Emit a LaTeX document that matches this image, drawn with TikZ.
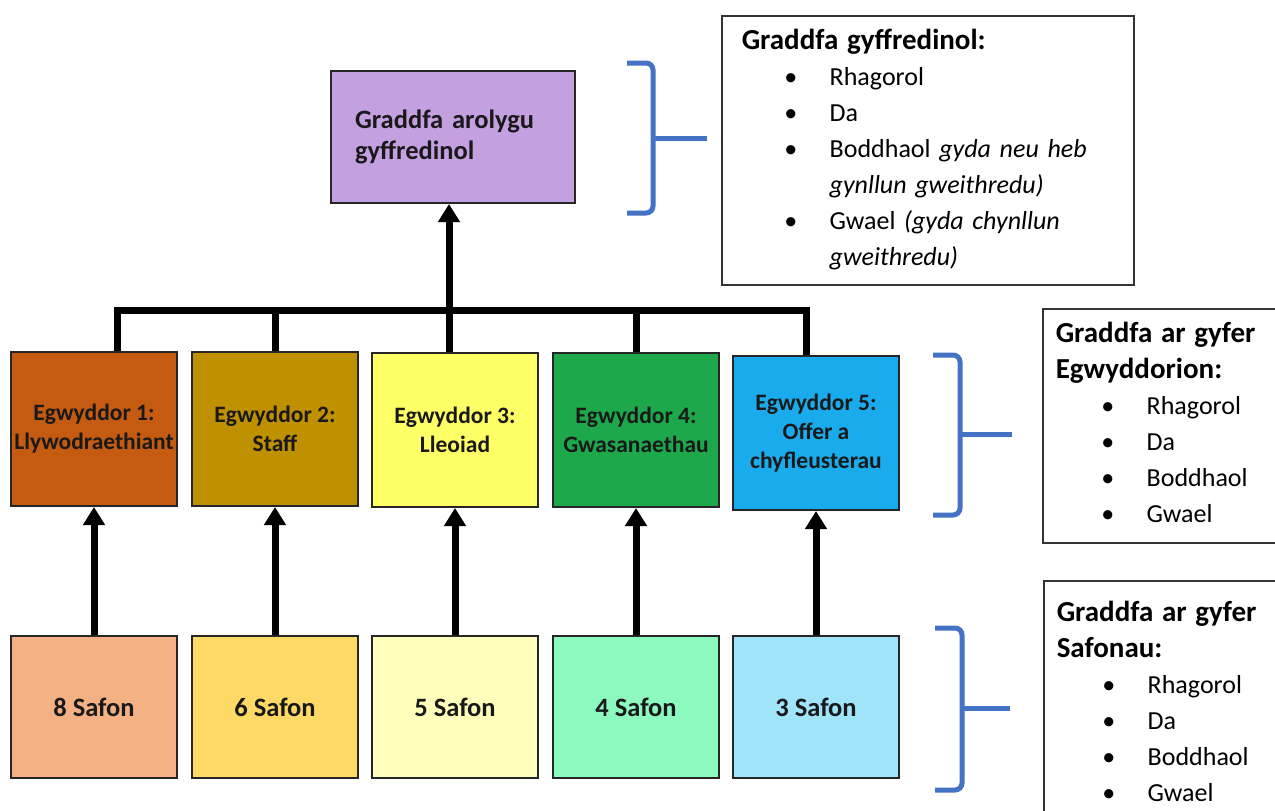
\documentclass[tikz,border=0pt]{standalone}
\usepackage{fontspec}
\setmainfont{Carlito}
\usetikzlibrary{arrows.meta}

\definecolor{overall}{HTML}{C5A0E0}
\definecolor{egA}{HTML}{C55A11}
\definecolor{egB}{HTML}{BF9000}
\definecolor{egC}{HTML}{FFFF66}
\definecolor{egD}{HTML}{1DA84C}
\definecolor{egE}{HTML}{1AABEC}
\definecolor{sfA}{HTML}{F4B183}
\definecolor{sfB}{HTML}{FFD966}
\definecolor{sfC}{HTML}{FFFFBB}
\definecolor{sfD}{HTML}{8CFABF}
\definecolor{sfE}{HTML}{A0E4FA}
\definecolor{bracketblue}{HTML}{4472C4}

\begin{document}
\begin{tikzpicture}[x=1pt,y=-1pt,
  box/.style={draw=black!85, line width=2pt, minimum width=166pt, inner sep=2pt, align=center, text=black!90},
  egbox/.style={box, minimum height=154pt, font=\fontsize{23.5}{29}\selectfont\bfseries},
  safbox/.style={box, minimum height=142pt, font=\fontsize{26.5}{32}\selectfont\bfseries},
  panel/.style={draw=black!80, line width=1.5pt, anchor=north west, inner ysep=0pt, align=left, font=\fontsize{26}{36}\selectfont},
  busline/.style={line width=7pt},
  uparrow/.style={line width=7pt, -{Triangle[width=21pt,length=18pt]}},
  bracket/.style={draw=bracketblue, line width=5pt, rounded corners=7pt}]

\useasboundingbox (0,0) rectangle (1275,811);
\clip (0,0) rectangle (1275,811);

% Overall inspection grade
\node[box, fill=overall, minimum width=244pt, minimum height=132pt, text width=196pt, inner xsep=24pt, align=left,
  font=\fontsize{26.5}{31}\selectfont\bfseries] (top) at (453,137) {Graddfa arolygu\\gyffredinol};

% Principles
\node[egbox, fill=egA] (p1) at (94,429) {Egwyddor 1:\\Llywodraethiant};
\node[egbox, fill=egB] (p2) at (275,429) {Egwyddor 2:\\Staff};
\node[egbox, fill=egC] (p3) at (455,430) {Egwyddor 3:\\Lleoiad};
\node[egbox, fill=egD] (p4) at (636,430) {Egwyddor 4:\\Gwasanaethau};
\node[egbox, fill=egE] (p5) at (816,433) {Egwyddor 5:\\Offer a\\chyfleusterau};

% Standards
\foreach \i/\x/\n/\c in {1/94/8/sfA, 2/275/6/sfB, 3/455/5/sfC, 4/636/4/sfD, 5/816/3/sfE}
{
    \node[safbox, fill=\c] (s\i) at (\x,707) {\n\ Safon};
}

% Arrows from standards up to principles
\foreach \i in {1,...,5}
{
    \draw[uparrow] (s\i.north) -- (p\i.south);
}

% Bus joining the principles to the overall grade
\coordinate (busL) at (117,310);
\coordinate (busR) at (806,310);
\coordinate (up) at (449,310);
\draw[busline] (busL |- p1.north) -- (busL) -- (busR) -- (busR |- p5.north);
\draw[busline] (p2.north) -- (p2.north |- busL);
\draw[busline] (p4.north) -- (p4.north |- busL);
\draw[uparrow] (up |- p3.north) -- (up |- top.south);

% Grade panels
\node[panel, minimum width=412pt, minimum height=269pt, text width=372pt, inner xsep=20pt] (gradeAll) at (721,15) {%
  \begin{tabular}{@{\hspace{42.5pt}}c@{\hspace{32.5pt}}l@{}}
  \multicolumn{2}{@{}l}{\fontsize{29}{36}\selectfont\bfseries Graddfa gyffredinol:}\\
  \textbullet & Rhagorol\\
  \textbullet & Da\\
  \textbullet & Boddhaol \textit{gyda neu heb}\\
   & \textit{gynllun gweithredu)}\\
  \textbullet & Gwael \textit{(gyda chynllun}\\
   & \textit{gweithredu)}
  \end{tabular}};
\node[panel, minimum width=260pt, minimum height=234pt, text width=247pt, inner xsep=13pt] (gradeEg) at (1042,308) {%
  \begin{tabular}{@{\hspace{45.5pt}}c@{\hspace{32.5pt}}l@{}}
  \multicolumn{2}{@{}l}{\fontsize{29}{36}\selectfont\bfseries Graddfa ar gyfer}\\
  \multicolumn{2}{@{}l}{\fontsize{29}{36}\selectfont\bfseries Egwyddorion:}\\
  \textbullet & Rhagorol\\
  \textbullet & Da\\
  \textbullet & Boddhaol\\
  \textbullet & Gwael
  \end{tabular}};
\node[panel, minimum width=260pt, minimum height=248pt, text width=247pt, inner xsep=13pt] (gradeSaf) at (1043,580) {%
  \begin{tabular}{@{\hspace{45.5pt}}c@{\hspace{32.5pt}}l@{}}
  \multicolumn{2}{@{}l}{\fontsize{29}{36}\selectfont\bfseries Graddfa ar gyfer}\\
  \multicolumn{2}{@{}l}{\fontsize{29}{36}\selectfont\bfseries Safonau:}\\
  \textbullet & Rhagorol\\
  \textbullet & Da\\
  \textbullet & Boddhaol\\
  \textbullet & Gwael
  \end{tabular}};

% Brackets
\draw[bracket] (627,63) -- (653,63) -- (653,213) -- (627,213);
\draw[bracket] (653,138) -- (707,138);
\draw[bracket] (933,355) -- (960,355) -- (960,515) -- (933,515);
\draw[bracket] (960,434) -- (1012,434);
\draw[bracket] (935,628) -- (962,628) -- (962,790) -- (935,790);
\draw[bracket] (962,708) -- (1010,708);
\end{tikzpicture}
\end{document}
